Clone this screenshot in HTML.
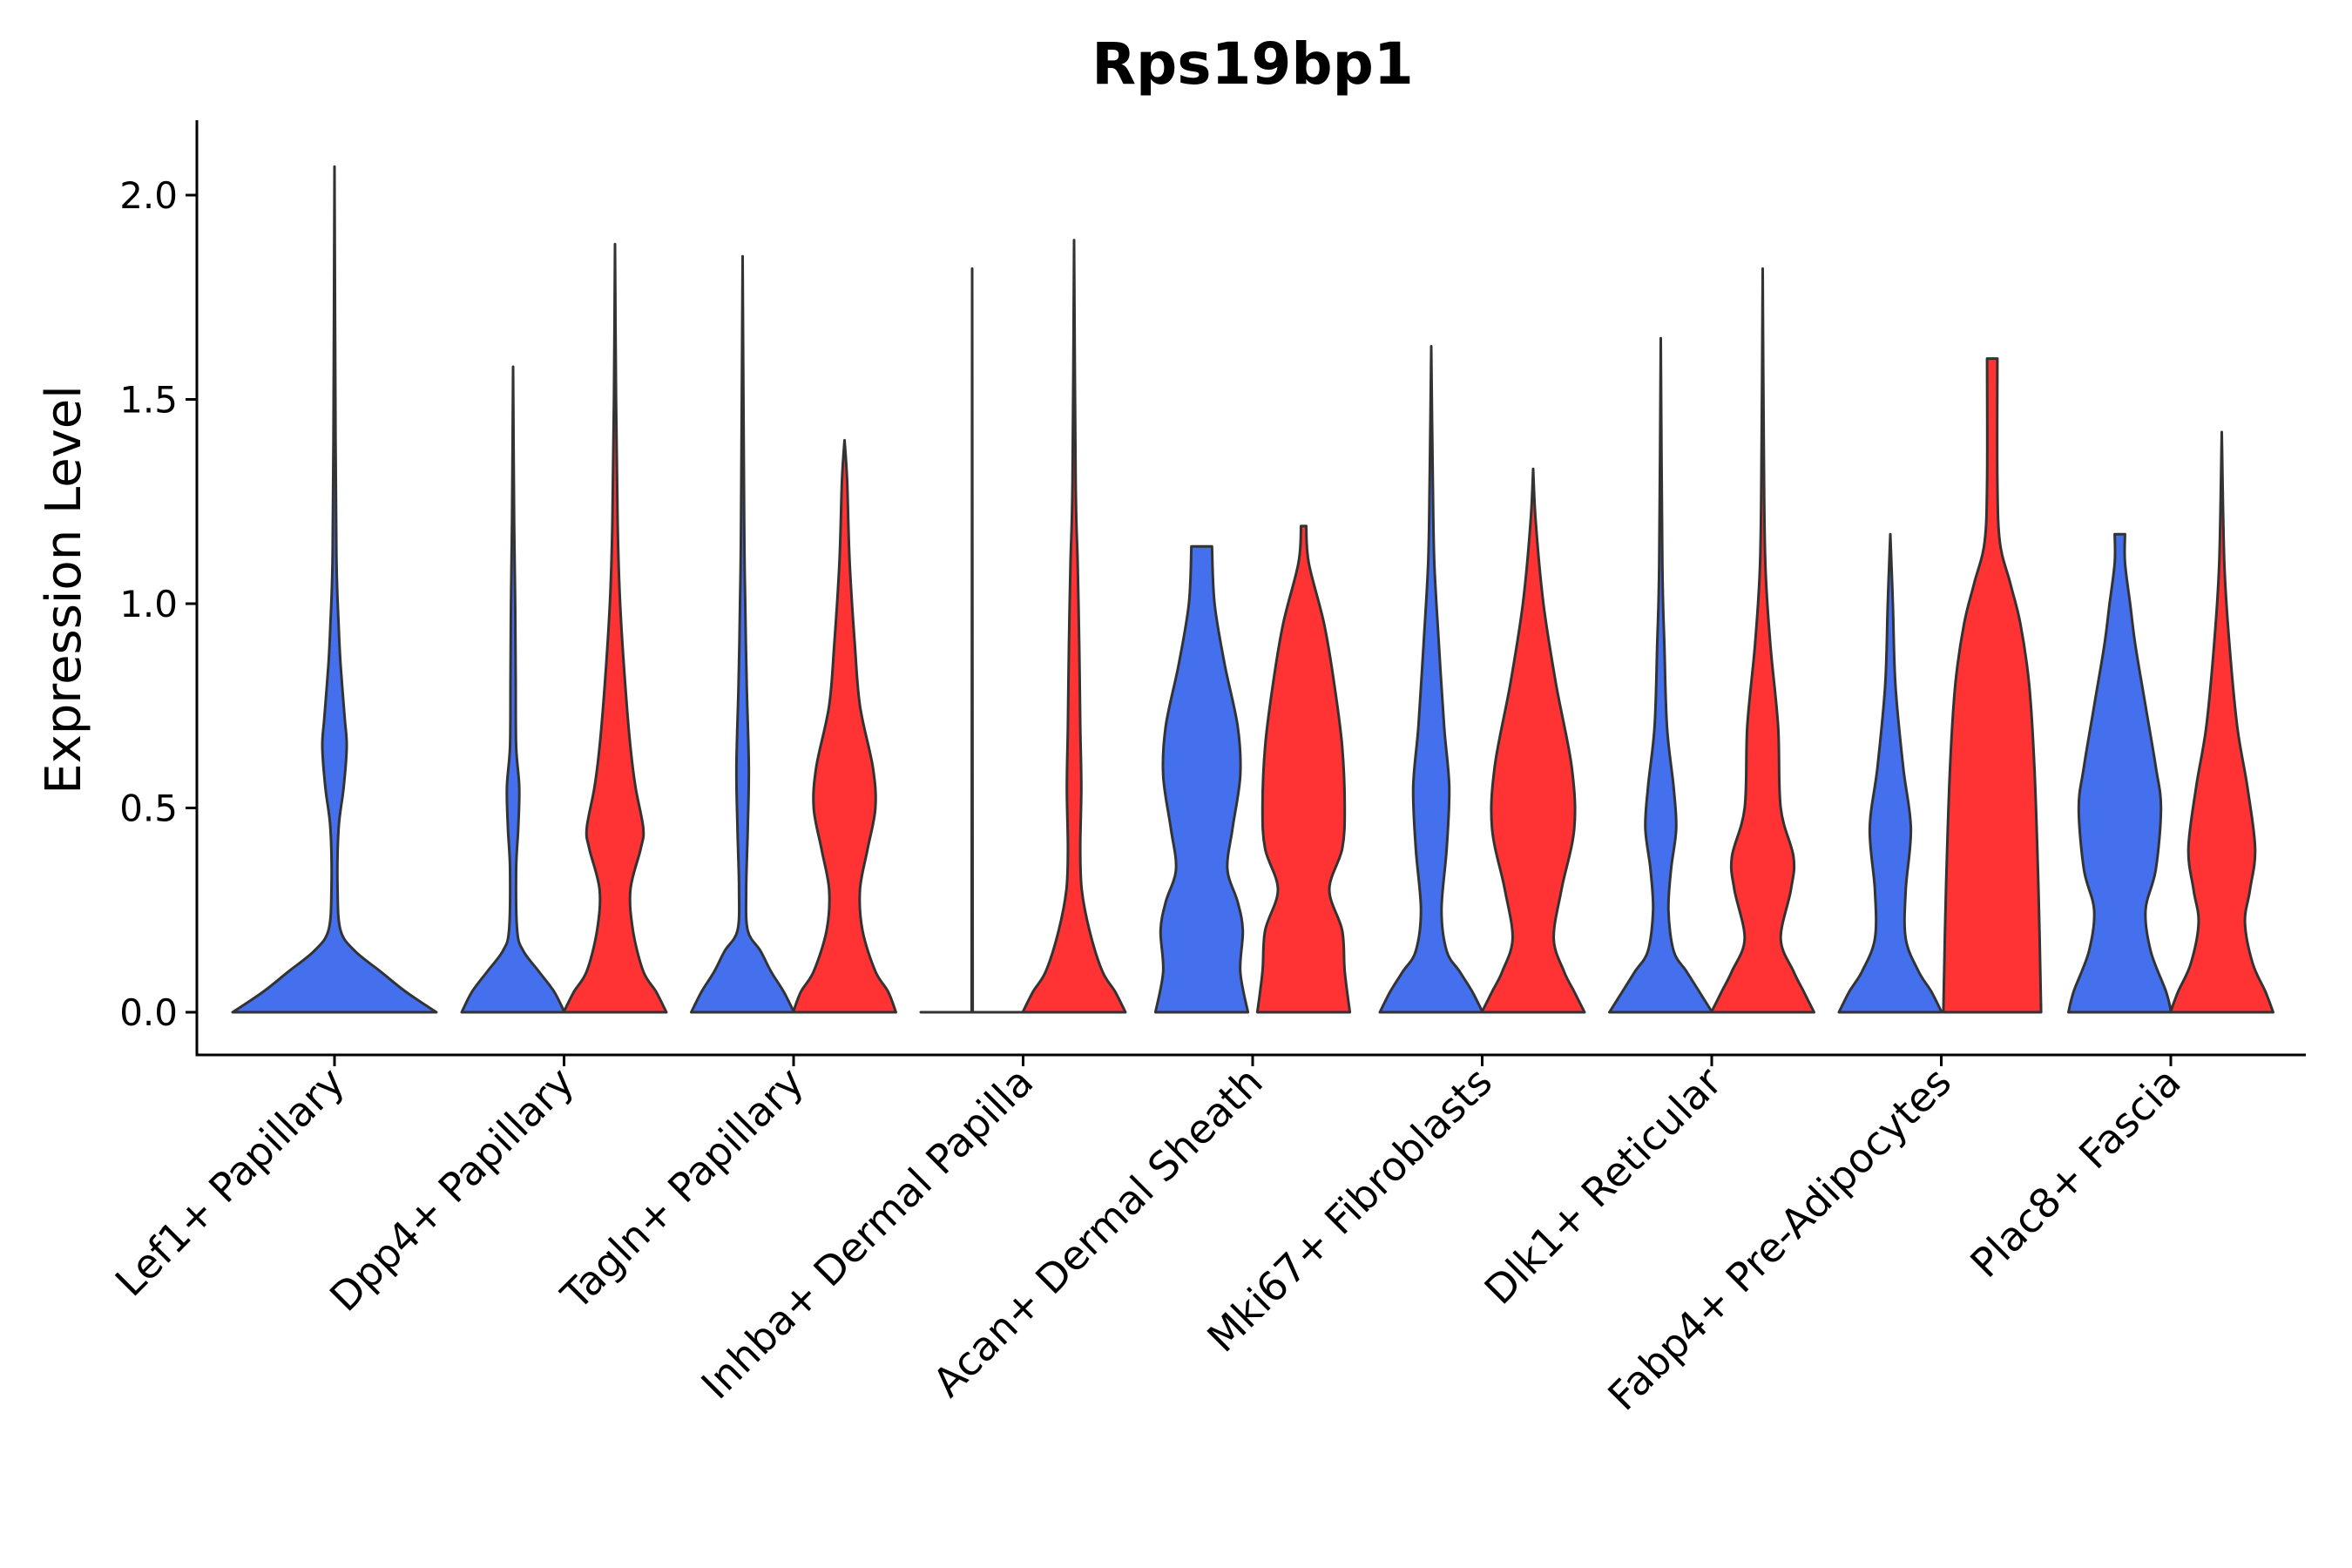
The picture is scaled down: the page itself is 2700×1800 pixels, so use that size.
<!DOCTYPE html>
<html><head><meta charset="utf-8"><style>
html,body{margin:0;padding:0;background:#fff;}
svg{display:block;font-family:"DejaVu Sans","Liberation Sans",sans-serif;}
</style></head><body>
<svg id="chart" width="2700" height="1800" viewBox="0 0 2700 1800">
<rect width="2700" height="1800" fill="#fff"/>
<text x="1438" y="96" text-anchor="middle" font-size="66" font-weight="bold">Rps19bp1</text>
<text transform="translate(92,677) rotate(-90)" text-anchor="middle" font-size="56">Expression Level</text>
<g id="plot"></g>
</svg>
<script>
const categories = ["Lef1+ Papillary","Dpp4+ Papillary","Tagln+ Papillary","Inhba+ Dermal Papilla","Acan+ Dermal Sheath","Mki67+ Fibroblasts","Dlk1+ Reticular","Fabp4+ Pre-Adipocytes","Plac8+ Fascia"];
const yTicks = [0, 0.5, 1.0, 1.5, 2.0];
const yTickLabels = ["0.0","0.5","1.0","1.5","2.0"];
// density profiles: [expression, relative half-width]
const blueProfiles = [
 [[0,1],[.05,.7],[.1,.45],[.15,.2],[.2,.06],[.3,.03],[.45,.04],[.55,.09],[.65,.12],[.72,.1],[.85,.06],[.95,.04],[1.1,.02],[1.4,.01],[2.07,0]],
 [[0,1],[.05,.8],[.1,.5],[.15,.2],[.2,.08],[.35,.06],[.45,.1],[.55,.12],[.65,.06],[.8,.05],[1.0,.04],[1.2,.02],[1.58,0]],
 [[0,1],[.05,.8],[.1,.55],[.15,.35],[.2,.1],[.3,.07],[.45,.1],[.6,.12],[.8,.08],[1.0,.05],[1.2,.03],[1.85,0]],
 [[0,1],[0,.01],[1.82,0]],
 [[0,.9],[.1,.75],[.2,.8],[.27,.7],[.35,.5],[.45,.6],[.58,.75],[.7,.7],[.85,.45],[1.0,.25],[1.14,.2],[1.14,0]],
 [[0,1],[.05,.8],[.1,.55],[.15,.3],[.25,.2],[.4,.3],[.55,.35],[.7,.25],[.9,.15],[1.1,.06],[1.3,.03],[1.63,0]],
 [[0,1],[.05,.75],[.1,.5],[.15,.25],[.25,.15],[.35,.2],[.45,.3],[.55,.25],[.7,.12],[.9,.07],[1.1,.03],[1.65,0]],
 [[0,1],[.05,.8],[.1,.55],[.18,.3],[.3,.3],[.45,.4],[.6,.25],[.8,.1],[1.0,.05],[1.17,0]],
 [[0,1],[.05,.9],[.15,.6],[.25,.5],[.35,.7],[.5,.8],[.6,.7],[.75,.5],[.9,.3],[1.0,.2],[1.1,.1],[1.17,.1],[1.17,0]]
];
const redProfiles = [
 null,
 [[0,1],[.05,.8],[.1,.55],[.2,.35],[.3,.3],[.4,.5],[.45,.55],[.55,.4],[.65,.3],[.8,.2],[1.0,.1],[1.2,.05],[1.5,.02],[1.88,0]],
 [[0,1],[.05,.85],[.1,.6],[.2,.35],[.3,.3],[.4,.45],[.5,.6],[.6,.55],[.75,.3],[.9,.2],[1.1,.1],[1.3,.05],[1.4,0]],
 [[0,1],[.05,.8],[.1,.55],[.2,.3],[.3,.15],[.4,.12],[.55,.14],[.7,.12],[.9,.1],[1.1,.07],[1.3,.03],[1.89,0]],
 [[0,.9],[.1,.8],[.2,.75],[.3,.5],[.4,.75],[.5,.8],[.65,.75],[.8,.6],[.95,.4],[1.1,.1],[1.19,.05],[1.19,0]],
 [[0,1],[.05,.8],[.1,.6],[.18,.4],[.3,.55],[.45,.8],[.6,.75],[.8,.45],[1.0,.2],[1.2,.05],[1.33,0]],
 [[0,1],[.05,.8],[.1,.6],[.18,.35],[.3,.55],[.38,.6],[.5,.35],[.7,.3],[.9,.15],[1.1,.05],[1.4,.02],[1.82,0]],
 [[0,.95],[.3,.9],[.6,.82],[.8,.72],[.95,.55],[1.05,.35],[1.15,.15],[1.3,.1],[1.6,.1],[1.6,0]],
 [[0,1],[.05,.85],[.12,.6],[.22,.45],[.3,.55],[.4,.65],[.55,.5],[.7,.3],[.9,.15],[1.1,.05],[1.42,0]]
];
const X0=384, DX=263.5, AXL=226, AXR=2647, AXB=1211;
const xScale = i => X0 + i*DX;
const yScale = v => 1162 - v*469;
const NS="http://www.w3.org/2000/svg";
const g=document.getElementById('plot');
function mk(tag,attrs){const e=document.createElementNS(NS,tag);for(const k in attrs)e.setAttribute(k,attrs[k]);g.appendChild(e);return e;}
function f(p){return p[0].toFixed(1)+","+p[1].toFixed(1);}
function smooth(pts){
  let d="";
  for(let i=0;i<pts.length-1;i++){
    let p0=pts[Math.max(i-1,0)],p1=pts[i],p2=pts[i+1],p3=pts[Math.min(i+2,pts.length-1)];
    if(Math.abs(p1[1]-p2[1])<0.5){ d+="L"+f(p2); continue; }
    if(Math.abs(p0[1]-p1[1])<0.5) p0=p1;
    if(Math.abs(p3[1]-p2[1])<0.5) p3=p2;
    const c1=[p1[0]+(p2[0]-p0[0])/6,p1[1]+(p2[1]-p0[1])/6];
    const c2=[p2[0]-(p3[0]-p1[0])/6,p2[1]-(p3[1]-p1[1])/6];
    d+="C"+f(c1)+" "+f(c2)+" "+f(p2);
  }
  return d;
}
function violin(cx,maxW,prof,fill,name){
  const right=prof.map(p=>[cx+p[1]*maxW,yScale(p[0])]);
  const left=prof.slice().reverse().map(p=>[cx-p[1]*maxW,yScale(p[0])]);
  const d="M"+f([cx,yScale(0)])+"L"+f(right[0])+smooth(right)+"L"+f(left[0])+smooth(left)+"Z";
  const e=mk('path',{d:d,fill:fill,stroke:"#333",'stroke-width':3,'stroke-linejoin':'round'});
  
  
}
categories.forEach((c,i)=>{
  const cx=xScale(i);
  if(!redProfiles[i]){ violin(cx,117,blueProfiles[i],"#4470EE","violin-blue-"+(i+1)); }
  else{
    violin(cx-58.5,59,blueProfiles[i],"#4470EE","violin-blue-"+(i+1));
    violin(cx+58.5,59,redProfiles[i],"#FF3333","violin-red-"+(i+1));
  }
  const t=mk('line',{x1:cx,x2:cx,y1:AXB,y2:AXB+13,stroke:"#000",'stroke-width':3});
  
  
  const lb=mk('text',{x:cx+14,y:AXB+34,'text-anchor':'end','font-size':46,transform:`rotate(-45 ${cx+14} ${AXB+34})`});
  lb.textContent=c;
  
  
});
yTicks.forEach((v,i)=>{
  const y=yScale(v);
  const t=mk('line',{x1:AXL-13,x2:AXL,y1:y,y2:y,stroke:"#000",'stroke-width':3});
  
  
  const lb=mk('text',{x:AXL-22,y:y+15,'text-anchor':'end','font-size':42});
  lb.textContent=yTickLabels[i];
  
  
});
const ax=mk('line',{x1:AXL,x2:AXL,y1:138,y2:AXB+1.5,stroke:"#000",'stroke-width':3});


const bx=mk('line',{x1:AXL-1.5,x2:AXR,y1:AXB,y2:AXB,stroke:"#000",'stroke-width':3});


</script>
</body></html>
